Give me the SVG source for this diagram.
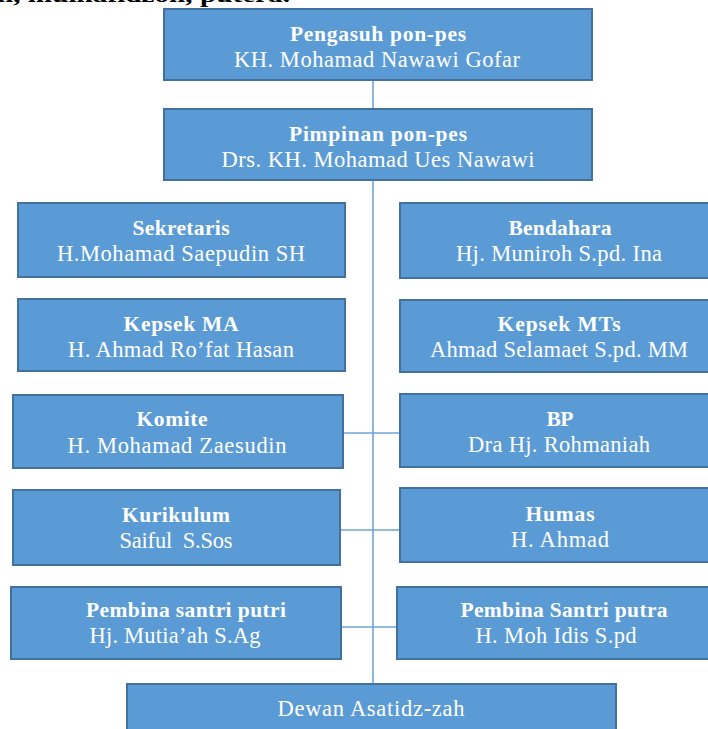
<svg xmlns="http://www.w3.org/2000/svg" width="708" height="729" viewBox="0 0 708 729">
<style>
.box{fill:#5B9BD5;stroke:#41719C;stroke-width:2}
.t{font-family:"Liberation Serif","Times New Roman",serif;font-size:22.5px;fill:#FFFFFF;text-anchor:middle}
.b{font-weight:bold;font-size:21.5px}
.con{stroke:#6FA3DA;stroke-width:1.6;fill:none}
.top{font-family:"Liberation Serif","Times New Roman",serif;font-size:21px;font-weight:bold;fill:#000}
</style>
<rect width="708" height="729" fill="#FFFFFF"/>
<text class="top" x="-3" y="2" textLength="293" lengthAdjust="spacingAndGlyphs">n, mulhafidzoh, putera.</text>
<g id="connectors">
<line class="con" x1="373" y1="81" x2="373" y2="108"/>
<line class="con" x1="373" y1="181" x2="373" y2="684"/>
<line class="con" x1="343" y1="433" x2="400" y2="433"/>
<line class="con" x1="340" y1="530" x2="400" y2="530"/>
<line class="con" x1="342" y1="627" x2="397" y2="627"/>
</g>
<g id="pengasuh">
<rect class="box" x="164" y="9" width="428" height="71"/>
<text class="t b" x="378" y="41" textLength="176">Pengasuh pon-pes</text>
<text class="t" x="377" y="67" textLength="286">KH. Mohamad Nawawi Gofar</text>
</g>
<g id="pimpinan">
<rect class="box" x="164" y="109" width="428" height="71"/>
<text class="t b" x="378" y="141" textLength="178">Pimpinan pon-pes</text>
<text class="t" x="378" y="167" textLength="313">Drs. KH. Mohamad Ues Nawawi</text>
</g>
<g id="sekretaris">
<rect class="box" x="18" y="203" width="327" height="74"/>
<text class="t b" x="181" y="235" textLength="97">Sekretaris</text>
<text class="t" x="181" y="261" textLength="248">H.Mohamad Saepudin SH</text>
</g>
<g id="bendahara">
<rect class="box" x="400" y="203" width="318" height="75"/>
<text class="t b" x="560" y="235" textLength="103">Bendahara</text>
<text class="t" x="559" y="261" textLength="206">Hj. Muniroh S.pd. Ina</text>
</g>
<g id="kepsek-ma">
<rect class="box" x="18" y="299" width="327" height="72"/>
<text class="t b" x="181" y="331" textLength="115">Kepsek MA</text>
<text class="t" x="181" y="357" textLength="226">H. Ahmad Ro’fat Hasan</text>
</g>
<g id="kepsek-mts">
<rect class="box" x="400" y="300" width="318" height="72"/>
<text class="t b" x="559" y="331" textLength="123">Kepsek MTs</text>
<text class="t" x="559" y="357" textLength="258">Ahmad Selamaet S.pd. MM</text>
</g>
<g id="komite">
<rect class="box" x="13" y="395" width="330" height="73"/>
<text class="t b" x="172" y="426" textLength="71">Komite</text>
<text class="t" x="177" y="453" textLength="219">H. Mohamad Zaesudin</text>
</g>
<g id="bp">
<rect class="box" x="400" y="394" width="318" height="73"/>
<text class="t b" x="560" y="426" textLength="27">BP</text>
<text class="t" x="559" y="452" textLength="182">Dra Hj. Rohmaniah</text>
</g>
<g id="kurikulum">
<rect class="box" x="13" y="490" width="327" height="75"/>
<text class="t b" x="176" y="522" textLength="108">Kurikulum</text>
<text class="t" x="176" y="548" textLength="113" xml:space="preserve">Saiful  S.Sos</text>
</g>
<g id="humas">
<rect class="box" x="400" y="488" width="318" height="74"/>
<text class="t b" x="560" y="521" textLength="69">Humas</text>
<text class="t" x="560" y="547" textLength="98">H. Ahmad</text>
</g>
<g id="pembina-putri">
<rect class="box" x="11" y="587" width="330" height="72"/>
<text class="t b" x="186" y="617" textLength="200">Pembina santri putri</text>
<text class="t" x="175" y="643" textLength="171">Hj. Mutia’ah S.Ag</text>
</g>
<g id="pembina-putra">
<rect class="box" x="397" y="587" width="321" height="72"/>
<text class="t b" x="564" y="617" textLength="207">Pembina Santri putra</text>
<text class="t" x="556" y="643" textLength="161">H. Moh Idis S.pd</text>
</g>
<g id="dewan">
<rect class="box" x="127" y="684" width="489" height="60"/>
<text class="t" x="371" y="716" textLength="187">Dewan Asatidz-zah</text>
</g>
</svg>
